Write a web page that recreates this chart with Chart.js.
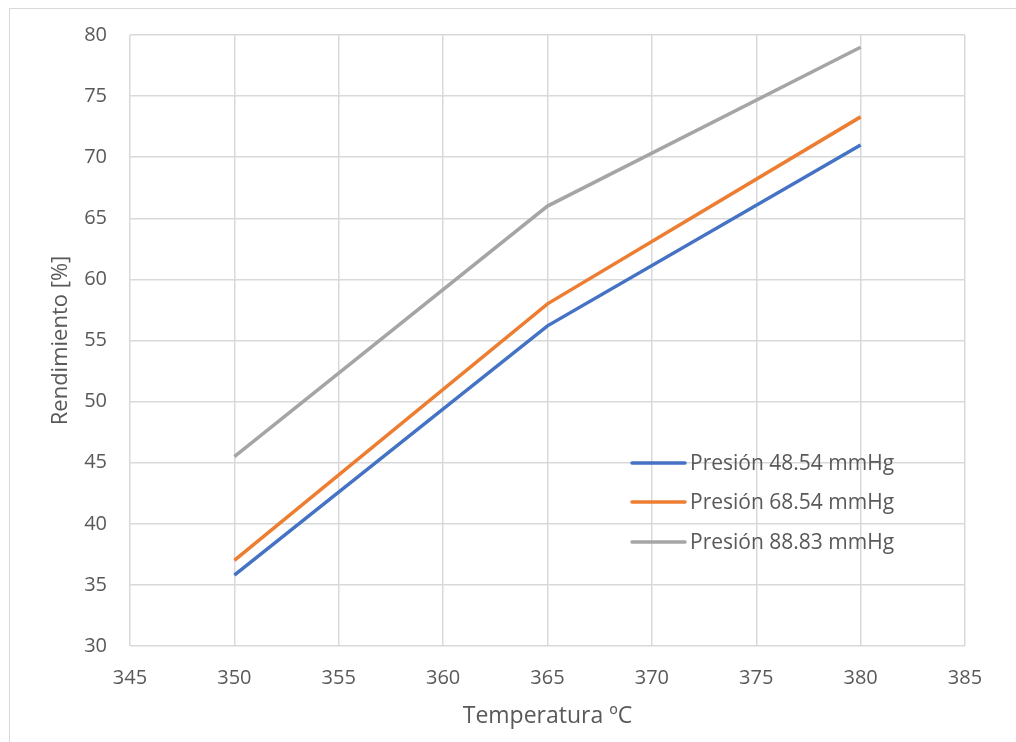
<!DOCTYPE html>
<html>
<head>
<meta charset="utf-8">
<script src="https://cdn.jsdelivr.net/npm/chart.js@4"></script>
<style>
  html, body { margin: 0; padding: 0; background: #fff; overflow: hidden; }
  #frame {
    position: absolute; left: 9px; top: 8px; width: 1100px; height: 800px;
    border-left: 1px solid #d9d9d9; border-top: 1px solid #d9d9d9;
  }
  #plot { position: absolute; left: 0; top: 0; }
</style>
</head>
<body>
<div id="frame"></div>
<canvas id="plot" width="1016" height="742"></canvas>
<script>
// temperaturas (ºC) y rendimiento (%) por presión
const temperaturas = [350, 365, 380]
const rend4854 = [35.8, 56.2, 71.0]
const rend6854 = [37.0, 58.0, 73.3]
const rend8883 = [45.5, 66.0, 79.0]

const series = [
  { label: 'Presión 48.54 mmHg', values: rend4854, color: '#4472C4' },
  { label: 'Presión 68.54 mmHg', values: rend6854, color: '#ED7D31' },
  { label: 'Presión 88.83 mmHg', values: rend8883, color: '#A5A5A5' },
]

const textColor = '#595959'
const gridColor = '#D9D9D9'
const fontFamily = '"Open Sans", sans-serif'

// leyenda dibujada dentro del área del gráfico
const insideLegend = {
  id: 'insideLegend',
  afterDatasetsDraw(chart) {
    const { ctx } = chart
    const x0 = 632
    const rows = [463, 502, 542]
    ctx.save()
    ctx.font = '21px ' + fontFamily
    ctx.textBaseline = 'middle'
    chart.data.datasets.forEach((ds, i) => {
      const y = rows[i]
      ctx.strokeStyle = ds.borderColor
      ctx.lineWidth = ds.borderWidth
      ctx.lineCap = 'round'
      ctx.beginPath()
      ctx.moveTo(x0, y)
      ctx.lineTo(x0 + 53, y)
      ctx.stroke()
      ctx.fillStyle = textColor
      ctx.fillText(ds.label, x0 + 58, y + 1)
    })
    ctx.restore()
  },
}

const chart = new Chart(document.getElementById('plot'), {
  type: 'line',
  plugins: [insideLegend],
  data: {
    datasets: series.map((s) => ({
      label: s.label,
      data: temperaturas.map((t, i) => ({ x: t, y: s.values[i] })),
      borderColor: s.color,
      backgroundColor: s.color,
      borderWidth: 3.5,
      pointRadius: 0,
      tension: 0,
    })),
  },
  options: {
    responsive: false,
    animation: false,
    layout: { padding: { left: 0, top: 34, right: 51, bottom: 0 } },
    plugins: {
      legend: { display: false },
      tooltip: { enabled: false },
    },
    scales: {
      x: {
        type: 'linear',
        min: 345,
        max: 385,
        afterFit: (scale) => { scale.height = 96 },
        ticks: { stepSize: 5, padding: 20, color: textColor, font: { family: fontFamily, size: 20 } },
        grid: { color: gridColor, lineWidth: 1.5, drawTicks: false },
        border: { display: false },
        title: {
          display: true,
          text: 'Temperatura ºC',
          color: textColor,
          font: { family: fontFamily, size: 23 },
          padding: { top: 0, bottom: 12 },
        },
      },
      y: {
        min: 30,
        max: 80,
        afterFit: (scale) => { scale.width = 130 },
        ticks: { stepSize: 5, padding: 23, color: textColor, font: { family: fontFamily, size: 20 } },
        grid: { color: gridColor, lineWidth: 1.5, drawTicks: false },
        border: { display: false },
        title: {
          display: true,
          text: 'Rendimiento [%]',
          color: textColor,
          font: { family: fontFamily, size: 22 },
          padding: { top: 48, bottom: 0 },
        },
      },
    },
  },
})
</script>
</body>
</html>
